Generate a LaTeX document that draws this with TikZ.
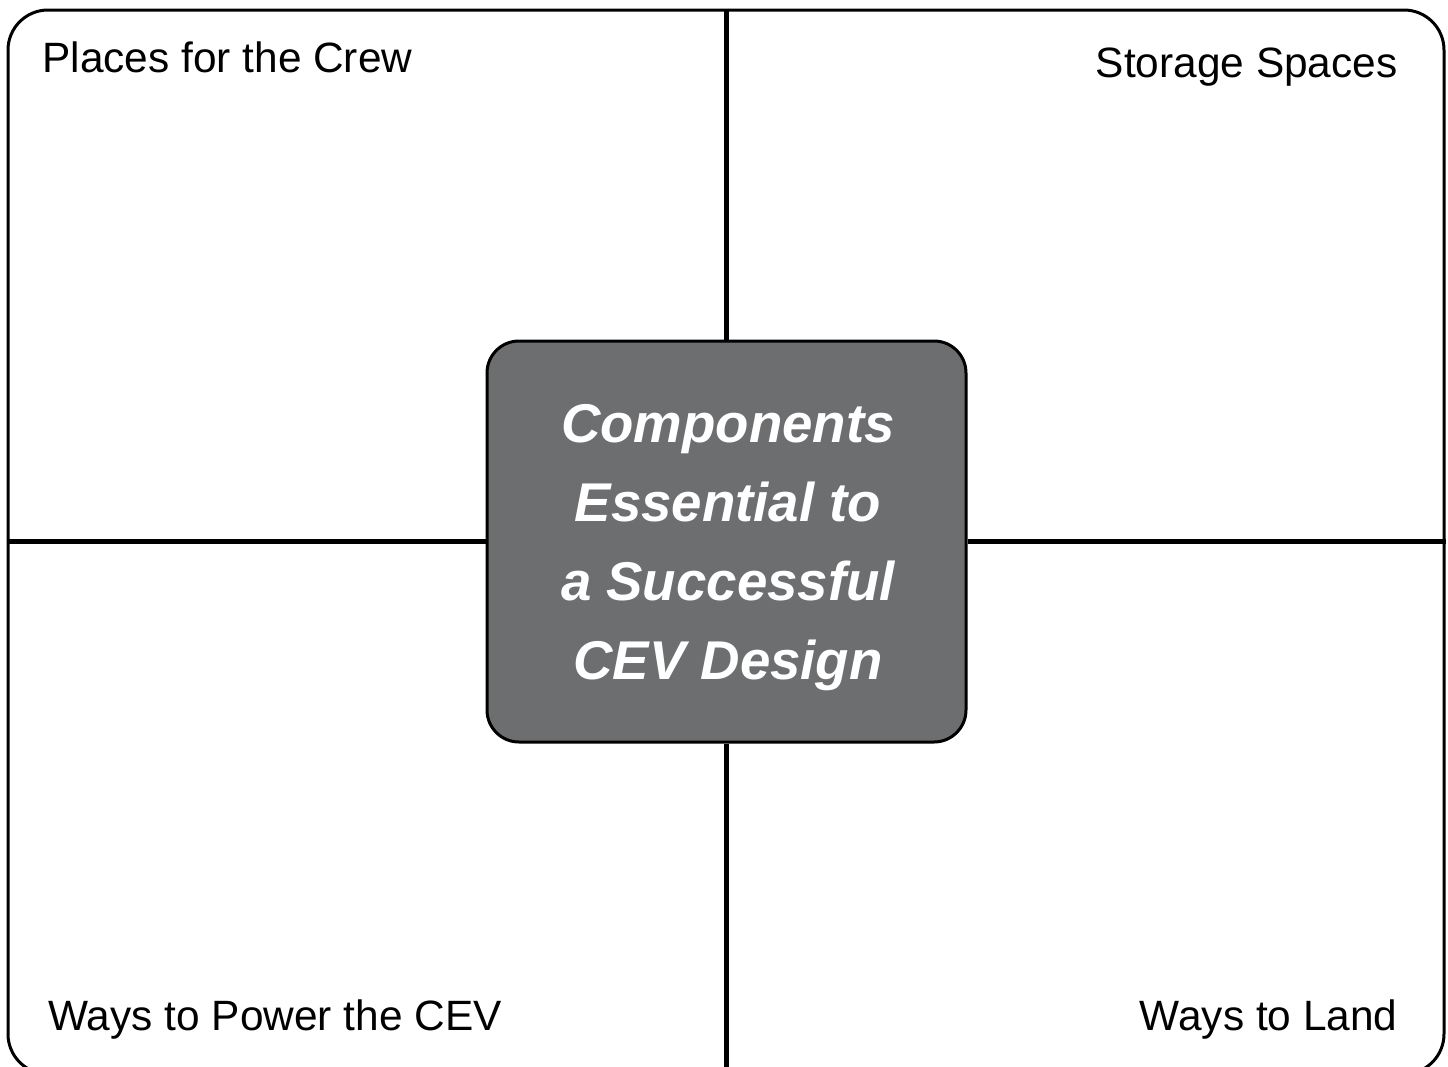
\documentclass[tikz,border=0pt]{standalone}
\usepackage{fontspec}
\setmainfont{Liberation Sans}
\definecolor{boxgray}{HTML}{6D6E70}
\begin{document}
\begin{tikzpicture}[x=0.5pt,y=-0.5pt,
  frame/.style={draw=black,line width=1.5pt,rounded corners=20pt,minimum width=718pt,minimum height=532pt,inner sep=0pt},
  centerbox/.style={draw=black,line width=1.5pt,fill=boxgray,rounded corners=16pt,minimum width=239.5pt,minimum height=200.5pt,inner sep=0pt},
  centertext/.style={text=white,align=center,inner sep=0pt,font=\fontsize{27.3}{39.5}\selectfont\bfseries\itshape},
  divider/.style={line width=2.4pt,black},
  label/.style={font=\fontsize{21.2}{25}\selectfont,inner sep=0pt}]
\useasboundingbox (0,0) rectangle (1448,1067);
\begin{scope}
\clip (0,0) rectangle (1448,1067);
\node[frame] (outer) at (726,542) {};
\node[centerbox] (core) at (726.5,541.5) {};
\draw[divider] (outer.north -| core.north) -- (core.north);
\draw[divider] (core.south) -- (outer.south -| core.south);
\draw[divider] (outer.west |- core.west) -- (core.west);
\draw[divider] (core.east) -- (outer.east |- core.east);
\end{scope}
\node[centertext] (coretext) at (728,548) {Components\\Essential to\\a Successful\\CEV Design};
\node[label,anchor=base west] (crew) at (42,72) {Places for the Crew};
\node[label,anchor=base east] (storage) at (1398,77) {Storage Spaces};
\node[label,anchor=base west] (power) at (48,1030) {Ways to Power the CEV};
\node[label,anchor=base east] (land) at (1398,1030) {Ways to Land};
\end{tikzpicture}
\end{document}
